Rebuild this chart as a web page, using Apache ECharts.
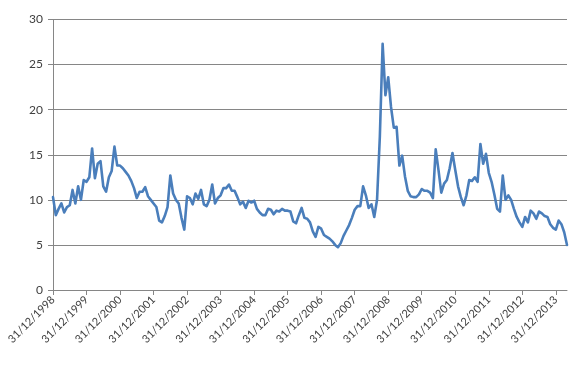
<!DOCTYPE html>
<html>
<head>
<meta charset="utf-8">
<script src="https://cdn.jsdelivr.net/npm/echarts@6/dist/echarts.min.js"></script>
<style>
html,body{margin:0;padding:0;background:#fff;}
#chart{width:581px;height:365px;}
</style>
</head>
<body>
<div id="chart"></div>
<script>
// Year-end tick labels shown on the x axis
const tickLabels = ["31/12/1998","31/12/1999","31/12/2000","31/12/2001","31/12/2002","31/12/2003","31/12/2004","31/12/2005","31/12/2006","31/12/2007","31/12/2008","31/12/2009","31/12/2010","31/12/2011","31/12/2012","31/12/2013"];

// Monthly series values, Dec 1998 .. Apr 2014
const values1999_2002 = [10.3,8.3,9.0,9.6,8.6,9.2,9.4,11.1,9.6,11.5,10.0,12.2,
  12.0,12.5,15.7,12.4,14.0,14.3,11.5,10.9,12.5,13.2,15.9,13.8,
  13.8,13.5,13.1,12.7,12.1,11.3,10.2,10.9,10.9,11.4,10.4,10.0,
  9.6,9.2,7.7,7.5,8.2,9.2,12.7,10.7,10.0,9.6,8.0,6.7];
const values2003_2006 = [10.4,10.2,9.5,10.7,10.1,11.1,9.5,9.3,10.0,11.7,9.6,10.2,
  10.5,11.3,11.3,11.7,11.0,11.0,10.3,9.5,9.8,9.1,9.9,9.7,
  9.9,9.0,8.6,8.3,8.3,9.0,8.9,8.4,8.8,8.7,9.0,8.8,
  8.8,8.7,7.6,7.4,8.3,9.1,8.0,7.9,7.5,6.5,5.9,7.0];
const values2007_2010 = [6.8,6.1,5.9,5.7,5.4,5.0,4.75,5.2,6.0,6.6,7.2,8.0,
  8.9,9.3,9.3,11.5,10.5,9.1,9.5,8.1,10.0,17.0,27.3,21.6,
  23.6,20.3,18.0,18.1,13.8,14.9,12.6,11.0,10.4,10.3,10.3,10.6,
  11.2,11.0,11.0,10.8,10.2,15.6,13.3,10.8,11.8,12.2,13.5,15.2];
const values2011_2014 = [13.3,11.5,10.3,9.4,10.5,12.2,12.1,12.5,12.0,16.2,14.0,15.1,
  13.0,12.0,10.6,9.0,8.7,12.7,10.0,10.5,10.0,9.0,8.1,7.5,
  7.0,8.1,7.5,8.8,8.5,7.9,8.7,8.5,8.2,8.1,7.3,6.9,
  6.7,7.7,7.3,6.4,5.0];

const values = [].concat(values1999_2002, values2003_2006, values2007_2010, values2011_2014);

// Month-end category names
const categories = [];
for (let k = 0; k < values.length; k++) {
  const m = (11 + k) % 12;           // 0-based month
  const y = 1998 + Math.floor((11 + k) / 12);
  const last = new Date(Date.UTC(y, m + 1, 0)).getUTCDate();
  categories.push(String(last).padStart(2,'0') + '/' + String(m + 1).padStart(2,'0') + '/' + y);
}

const chart = echarts.init(document.getElementById('chart'), null, {renderer:'canvas'});
const yearTick = function (idx) { return idx % 12 === 0; };
chart.setOption({
  animation: false,
  grid: {left: 53, right: 14, top: 19.5, bottom: 75, containLabel: false},
  xAxis: {
    type: 'category',
    data: categories,
    boundaryGap: false,
    axisLine: {show: true, lineStyle: {color: '#868686', width: 1}},
    axisTick: {show: true, interval: yearTick, length: 5, inside: false, lineStyle: {color: '#868686'}},
    axisLabel: {
      interval: yearTick,
      rotate: 45,
      margin: 8,
      color: '#404040',
      fontFamily: 'Lato, "Open Sans", sans-serif',
      fontSize: 11,
      formatter: function (v, idx) { return tickLabels[Math.round(idx / 12)] || ''; }
    },
    splitLine: {show: false}
  },
  yAxis: {
    type: 'value',
    min: 0, max: 30, interval: 5,
    axisLine: {show: true, lineStyle: {color: '#868686', width: 1}},
    axisTick: {show: true, length: 5, lineStyle: {color: '#868686'}},
    axisLabel: {color: '#404040', fontFamily: 'Lato, "Open Sans", sans-serif', fontSize: 12, margin: 10},
    splitLine: {show: true, lineStyle: {color: '#868686', width: 1}}
  },
  series: [{
    type: 'line',
    data: values,
    showSymbol: false,
    symbol: 'none',
    smooth: false,
    lineStyle: {color: '#4A7EBB', width: 2.6, join: 'round', cap: 'round'},
    itemStyle: {color: '#4A7EBB'}
  }]
});
</script>
</body>
</html>
